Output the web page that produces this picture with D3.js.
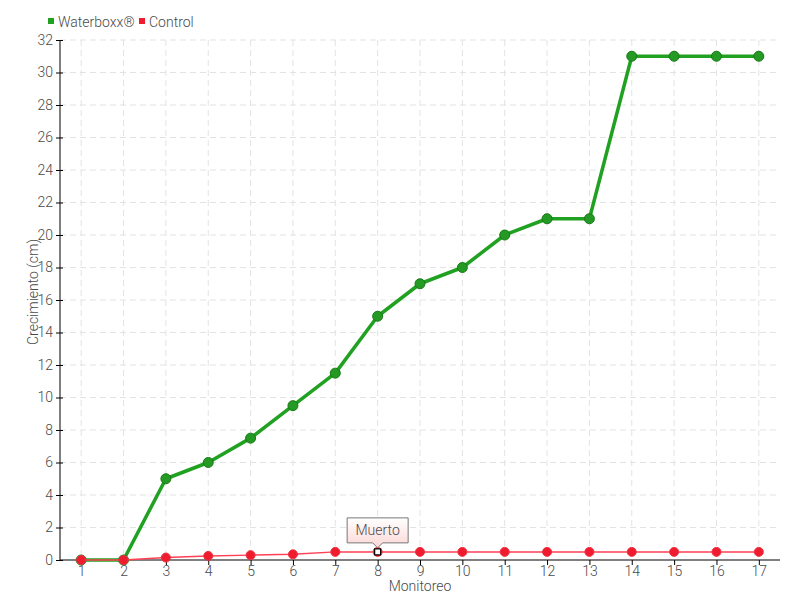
<!DOCTYPE html>
<html>
<head>
<meta charset="utf-8">
<script src="https://cdn.jsdelivr.net/npm/d3@7"></script>
<style>
  body { margin: 0; background: #fff; }
  text { font-family: Roboto, "Noto Sans", sans-serif; font-weight: 300; fill: #4a4a4a; }
</style>
</head>
<body>
<svg id="chart" width="800" height="600"></svg>
<script>
const monitoreo = ["1","2","3","4","5","6","7","8","9","10","11","12","13","14","15","16","17"];
const waterboxx = [0, 0, 5, 6, 7.5, 9.5, 11.5, 15, 17, 18, 20, 21, 21, 31, 31, 31, 31];
const control = [0, 0, 0.15, 0.25, 0.3, 0.35, 0.5, 0.5, 0.5, 0.5, 0.5, 0.5, 0.5, 0.5, 0.5, 0.5, 0.5];
const yTicks = d3.range(0, 33, 2);
const seriesNames = ["Waterboxx®", "Control"];
const tipIndex = 7;
const tipLabel = "Muerto";

const GREEN = "#21a121", RED = "#ee1c2e";
const svg = d3.select("#chart");
const mLeft = 60, mRight = 780, mTop = 40, mBottom = 560;

const x = d3.scalePoint().domain(monitoreo).range([mLeft, mRight]).padding(0.5);
const y = d3.scaleLinear().domain([0, 32]).range([mBottom, mTop]);

const defs = svg.append("defs");
const grad = defs.append("linearGradient").attr("id", "tipg").attr("x1", 0).attr("y1", 0).attr("x2", 0).attr("y2", 1);
grad.append("stop").attr("offset", 0).attr("stop-color", "#ffffff");
grad.append("stop").attr("offset", 1).attr("stop-color", "#fcd6d6");

// grid
const grid = svg.append("g").attr("stroke", "#e3e3e3").attr("stroke-dasharray", "6,4");
grid.selectAll("line.h").data(yTicks.filter(d => d > 0)).join("line").attr("class", "h")
  .attr("x1", mLeft).attr("x2", mRight).attr("y1", d => y(d)).attr("y2", d => y(d));
grid.selectAll("line.v").data(monitoreo).join("line").attr("class", "v")
  .attr("x1", d => x(d)).attr("x2", d => x(d)).attr("y1", mTop).attr("y2", mBottom);

// axes
const yAxis = svg.append("g").attr("transform", `translate(${mLeft},0)`)
  .call(d3.axisLeft(y).tickValues(yTicks).tickSize(4).tickPadding(3));
yAxis.select(".domain").attr("d", `M0,${mTop}V${mBottom}`).attr("stroke", "#000");
yAxis.selectAll(".tick line").attr("x1", -4).attr("x2", 3).attr("stroke", "#000");
yAxis.selectAll("text").attr("font-size", 14).attr("fill", "#4a4a4a");

const xAxis = svg.append("g").attr("transform", `translate(0,${mBottom})`)
  .call(d3.axisBottom(x).tickSize(5).tickPadding(1));
xAxis.select(".domain").attr("d", `M${mLeft},0H${mRight}`).attr("stroke", "#000");
xAxis.selectAll(".tick line").attr("stroke", "#000");
xAxis.selectAll("text").attr("font-size", 14).attr("fill", "#4a4a4a");

svg.append("text").attr("x", (mLeft + mRight) / 2).attr("y", 591).attr("text-anchor", "middle")
  .attr("font-size", 14).text("Monitoreo");
svg.append("text").attr("transform", `translate(38,${(mTop + mBottom) / 2 - 8}) rotate(-90)`)
  .attr("text-anchor", "middle").attr("font-size", 14).text("Crecimiento (cm)");

const line = d3.line().x((d, i) => x(monitoreo[i])).y(d => y(d));

// green series
svg.append("path").datum(waterboxx).attr("d", line).attr("fill", "none")
  .attr("stroke", GREEN).attr("stroke-width", 3.5).attr("stroke-linejoin", "round");
svg.append("g").selectAll("circle").data(waterboxx).join("circle")
  .attr("cx", (d, i) => x(monitoreo[i])).attr("cy", d => y(d)).attr("r", 5)
  .attr("fill", "#249a24").attr("stroke", "#177a17").attr("stroke-width", 1);

// red series
svg.append("path").datum(control).attr("d", line).attr("fill", "none")
  .attr("stroke", "#ff4055").attr("stroke-width", 1.5);
svg.append("g").selectAll("circle").data(control).join("circle")
  .attr("cx", (d, i) => x(monitoreo[i])).attr("cy", d => y(d)).attr("r", 4.5)
  .attr("fill", RED).attr("stroke", "#f03040").attr("stroke-width", 1);

// highlighted point + tooltip
const px = x(monitoreo[tipIndex]), py = y(control[tipIndex]);
svg.append("rect").attr("x", px - 3).attr("y", py - 3).attr("width", 6).attr("height", 6)
  .attr("fill", "#fff").attr("stroke", "#000").attr("stroke-width", 1.2);
const tw = 61, th = 25, ty = py - 34;
svg.append("path")
  .attr("d", `M${px - tw / 2},${ty}h${tw}v${th}h${-(tw / 2 - 5)}l-5,5l-5,-5h${-(tw / 2 - 5)}z`)
  .attr("fill", "url(#tipg)").attr("stroke", "#777").attr("stroke-width", 1);
svg.append("text").attr("x", px).attr("y", ty + 17).attr("text-anchor", "middle")
  .attr("font-size", 14).attr("fill", "#444").text(tipLabel);

// legend
const legend = svg.append("g");
const lx = [48, 139], colors = [GREEN, RED];
seriesNames.forEach((n, i) => {
  legend.append("rect").attr("x", lx[i]).attr("y", 18).attr("width", 6).attr("height", 6).attr("fill", colors[i]);
  legend.append("text").attr("x", lx[i] + 10).attr("y", 27).attr("font-size", 14).text(n);
});
</script>
</body>
</html>
